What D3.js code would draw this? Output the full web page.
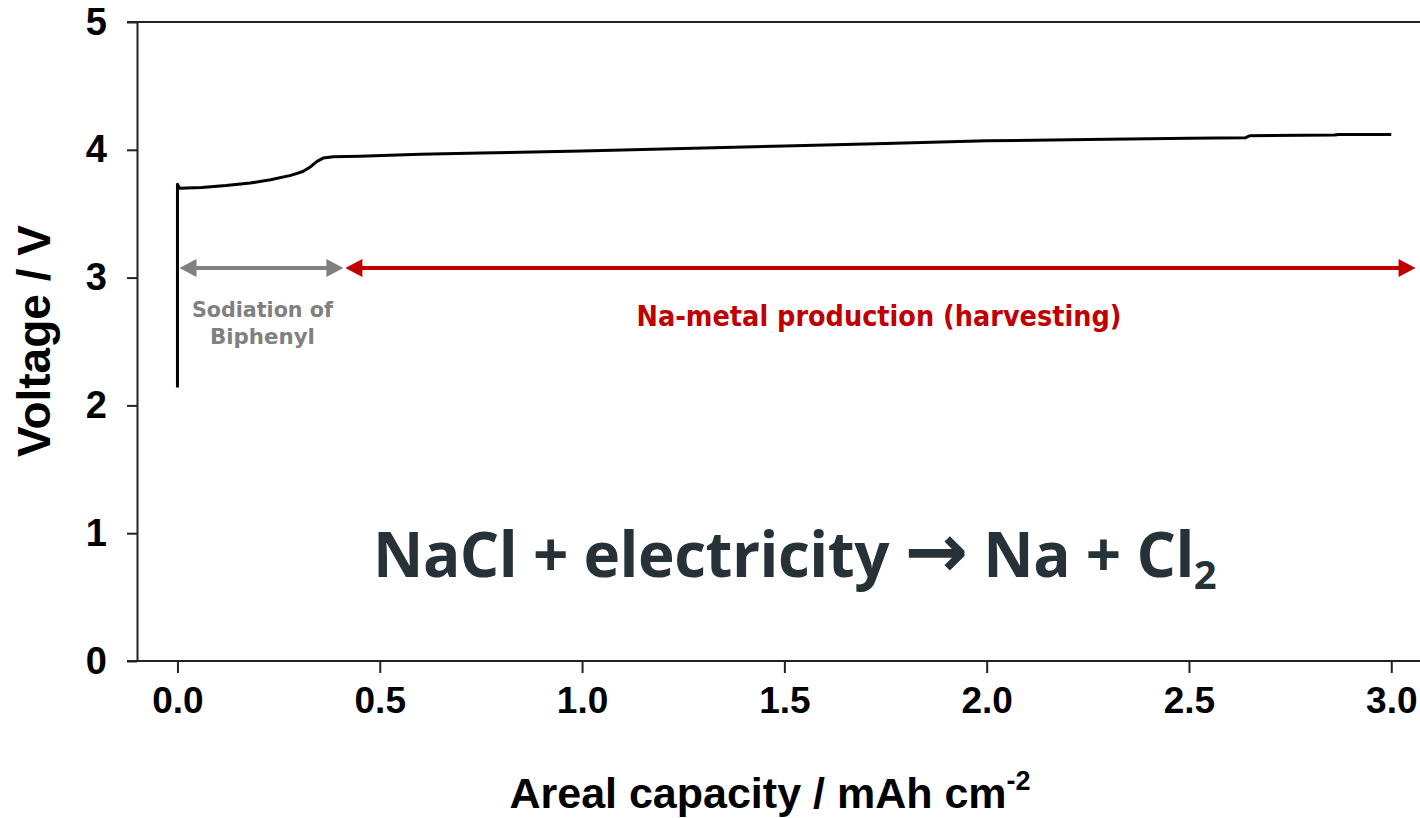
<html>
  <head>
    <title>Voltage profile</title>
    <style>
      body { margin: 0; background: #fff; }
      .axis text { font-family: "Liberation Sans", Arial, sans-serif; font-weight: bold; fill: #000; }
      .axis path, .axis line { stroke: #222; stroke-width: 2; }
    </style>
  </head>
  <body>
    <script type="text/javascript" src="https://cdnjs.cloudflare.com/ajax/libs/d3/7.8.5/d3.min.js"></script>
    <script type="text/javascript">
    // areal capacity (mAh cm-2) and cell voltage (V)
    var capacity = [0, 0, 0.005, 0.06, 0.12, 0.18, 0.23, 0.28, 0.31, 0.33, 0.345, 0.36, 0.385,
                    0.45, 0.6, 0.75, 1.0, 1.25, 1.5, 1.75, 2.0, 2.25, 2.5, 2.64, 2.65, 2.86, 2.87, 3.0];
    var voltage  = [2.14, 3.73, 3.70, 3.705, 3.72, 3.74, 3.765, 3.80, 3.83, 3.87, 3.91, 3.935, 3.945,
                    3.95, 3.965, 3.975, 3.99, 4.01, 4.03, 4.05, 4.07, 4.08, 4.09, 4.095, 4.11, 4.115, 4.12, 4.12];
    var xTicks = [0, 0.5, 1.0, 1.5, 2.0, 2.5, 3.0];
    var yTicks = [0, 1, 2, 3, 4, 5];

    // annotation ranges (capacity) and level (voltage)
    var sodiationRange = [0.005, 0.41];
    var harvestRange = [0.415, 3.06];
    var arrowLevel = 3.075;

    var W = 1420, H = 818;
    var m = { left: 137, right: 1420, top: 22, bottom: 661 };

    var svg = d3.select('body').append('svg')
        .attr('width', W)
        .attr('height', H);

    var x = d3.scaleLinear().domain([-0.1, 3.071]).range([m.left, m.right]);
    var y = d3.scaleLinear().domain([0, 5]).range([m.bottom, m.top]);

    // frame top line
    svg.append('line')
      .attr('x1', m.left - 10).attr('x2', m.right)
      .attr('y1', m.top).attr('y2', m.top)
      .attr('stroke', '#222').attr('stroke-width', 2);

    svg.append('g')
      .attr('class', 'axis')
      .attr('transform', 'translate(0,' + m.bottom + ')')
      .call(d3.axisBottom(x).tickValues(xTicks).tickFormat(d3.format('.1f'))
            .tickSize(12).tickSizeOuter(0).tickPadding(14))
      .call(function(g) { g.selectAll('text').style('font-size', '37px'); })
      .call(function(g) { g.select('.domain').attr('d', 'M' + (m.left - 10) + ',0H' + m.right); });

    svg.append('g')
      .attr('class', 'axis')
      .attr('transform', 'translate(' + m.left + ',0)')
      .call(d3.axisLeft(y).tickValues(yTicks).tickFormat(d3.format('d'))
            .tickSize(10).tickSizeOuter(0).tickPadding(20))
      .call(function(g) { g.selectAll('text').style('font-size', '38px'); });

    // axis titles
    var xt = svg.append('text')
      .attr('x', 770).attr('y', 808)
      .attr('text-anchor', 'middle')
      .style('font-family', '"Liberation Sans", Arial, sans-serif')
      .style('font-weight', 'bold')
      .style('font-size', '43px')
      .text('Areal capacity / mAh cm');
    xt.append('tspan')
      .attr('dy', -18)
      .style('font-size', '27px')
      .text('-2');

    svg.append('text')
      .attr('transform', 'translate(50,341) rotate(-90)')
      .attr('text-anchor', 'middle')
      .style('font-family', '"Liberation Sans", Arial, sans-serif')
      .style('font-weight', 'bold')
      .style('font-size', '46px')
      .text('Voltage / V');

    // voltage curve
    var pts = d3.zip(capacity, voltage);
    var line = d3.line()
      .x(function(d) { return x(d[0]); })
      .y(function(d) { return y(d[1]); });

    svg.append('path')
      .datum(pts)
      .attr('d', line)
      .attr('fill', 'none')
      .attr('stroke', '#000')
      .attr('stroke-width', 3)
      .attr('stroke-linejoin', 'round');

    // double-headed arrows
    function arrow(range, colour) {
      var x0 = x(range[0]), x1 = x(range[1]), yy = y(arrowLevel), hl = 17, hw = 9;
      svg.append('line')
        .attr('x1', x0 + hl - 2).attr('x2', x1 - hl + 2)
        .attr('y1', yy).attr('y2', yy)
        .attr('stroke', colour).attr('stroke-width', 4);
      svg.append('path')
        .attr('d', 'M' + x0 + ',' + yy + 'L' + (x0 + hl) + ',' + (yy - hw) + 'L' + (x0 + hl) + ',' + (yy + hw) + 'Z')
        .attr('fill', colour);
      svg.append('path')
        .attr('d', 'M' + x1 + ',' + yy + 'L' + (x1 - hl) + ',' + (yy - hw) + 'L' + (x1 - hl) + ',' + (yy + hw) + 'Z')
        .attr('fill', colour);
    }
    arrow(sodiationRange, '#808080');
    arrow(harvestRange, '#c00000');

    var annFont = '"DejaVu Sans", Tahoma, sans-serif';
    var sx = (x(sodiationRange[0]) + x(sodiationRange[1])) / 2 + 1;
    svg.append('text')
      .attr('x', sx).attr('y', 317)
      .attr('text-anchor', 'middle')
      .attr('textLength', 141).attr('lengthAdjust', 'spacingAndGlyphs')
      .style('font-family', annFont).style('font-weight', 'bold')
      .style('font-size', '21px').style('fill', '#808080')
      .text('Sodiation of');
    svg.append('text')
      .attr('x', sx).attr('y', 344)
      .attr('text-anchor', 'middle')
      .attr('textLength', 105).attr('lengthAdjust', 'spacingAndGlyphs')
      .style('font-family', annFont).style('font-weight', 'bold')
      .style('font-size', '21px').style('fill', '#808080')
      .text('Biphenyl');

    svg.append('text')
      .attr('x', 879).attr('y', 326)
      .attr('text-anchor', 'middle')
      .attr('textLength', 485).attr('lengthAdjust', 'spacingAndGlyphs')
      .style('font-family', annFont).style('font-weight', 'bold')
      .style('font-size', '29px').style('fill', '#c00000')
      .text('Na-metal production (harvesting)');

    // reaction
    var eq = svg.append('text')
      .attr('x', 373).attr('y', 577)
      .style('font-family', '"Open Sans", "Noto Sans", sans-serif')
      .style('font-weight', 'bold')
      .style('font-size', '62px')
      .style('letter-spacing', '-0.5px')
      .style('fill', '#263238');
    eq.append('tspan').text('NaCl + electricity ');
    eq.append('tspan')
      .style('font-family', '"DejaVu Sans", sans-serif')
      .style('font-size', '76px')
      .text('\u2192');
    eq.append('tspan').text(' Na + Cl');
    eq.append('tspan')
      .attr('dy', 12)
      .style('font-size', '40px')
      .text('2');
    </script>
  </body>
</html>
